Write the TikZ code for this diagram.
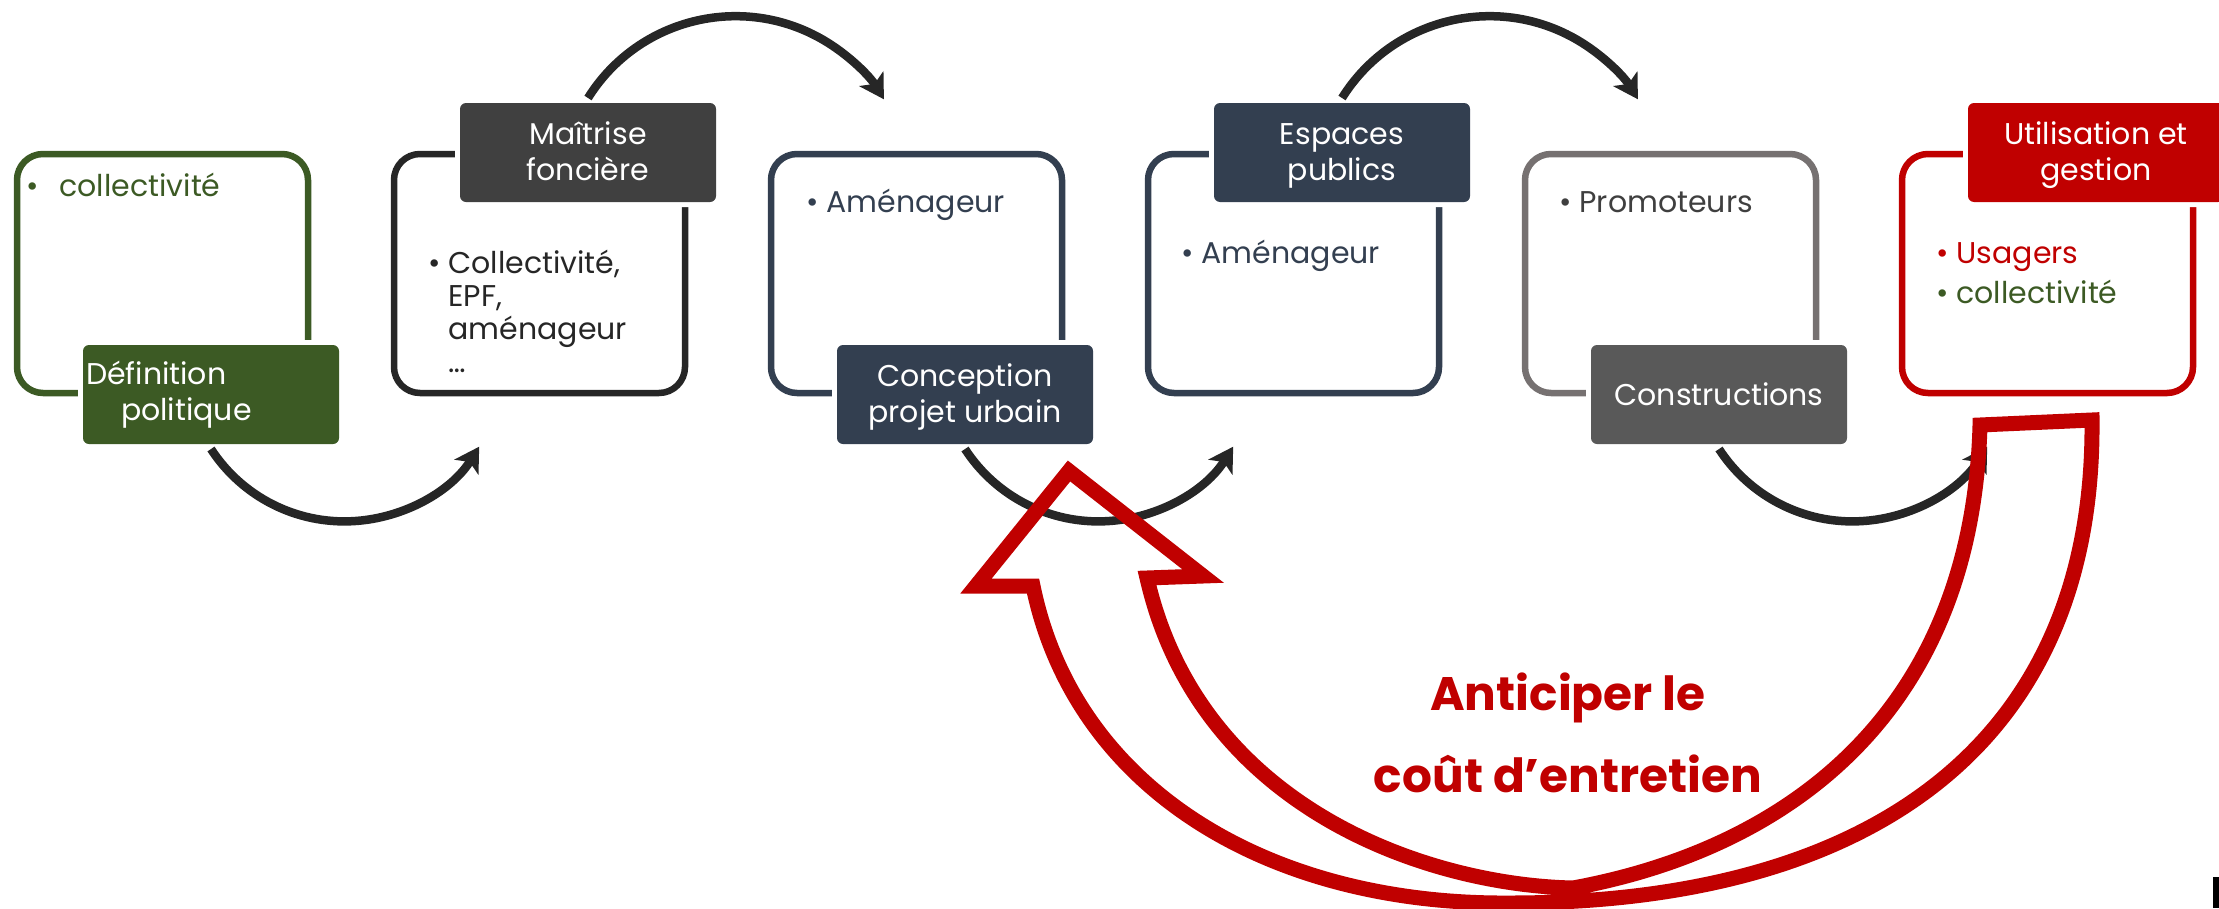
\documentclass[tikz,border=0pt]{standalone}
\usepackage{fontspec}
\setmainfont{Poppins}
\usetikzlibrary{arrows.meta}
\definecolor{cgreen}{HTML}{3C5A24}
\definecolor{cink}{HTML}{262626}
\definecolor{cslate}{HTML}{404040}
\definecolor{cnavy}{HTML}{333F50}
\definecolor{cstone}{HTML}{767171}
\definecolor{cconst}{HTML}{595959}
\definecolor{cgraytext}{HTML}{3F3F3F}
\definecolor{cred}{HTML}{C00000}
\newcommand{\bodyfont}{\fontsize{30}{33}\selectfont}
\newcommand{\labfont}{\fontsize{30}{36}\selectfont}
% struts that fix the vertical placement of title lines
\newcommand{\topstrut}{\rule{0pt}{28pt}}
\newcommand{\botstrut}{\rule[-8pt]{0pt}{8pt}}

\begin{document}
\begin{tikzpicture}[x=1pt,y=-1pt,
  stagebox/.style={line width=6.5pt, rounded corners=26pt, minimum width=291pt,
    minimum height=239pt, inner sep=0pt, outer sep=0pt, anchor=north west},
  stagelabel/.style={rounded corners=6pt, minimum width=256pt, minimum height=99pt,
    inner sep=0pt, outer sep=0pt, anchor=north west, text=white, align=center,
    font=\labfont, preaction={draw=white, line width=10pt}},
  entry/.style={anchor=base west, inner sep=0pt, font=\bodyfont},
  stepflow/.style={draw=cink, line width=8.5pt,
    -{Stealth[length=24pt,width=28pt,inset=6pt]}},
  costarrow/.style={draw=cred, line width=15pt, line join=miter, miter limit=10},
  slogan/.style={anchor=base, inner sep=0pt, text=cred,
    font=\bfseries\fontsize{47}{56}\selectfont}
]
\useasboundingbox (0,0) rectangle (2219,908);

% stage frames
\node[stagebox, draw=cgreen] (f1) at (17,154) {};
\node[stagebox, draw=cink]   (f2) at (394,154) {};
\node[stagebox, draw=cnavy]  (f3) at (771,154) {};
\node[stagebox, draw=cnavy]  (f4) at (1148,154) {};
\node[stagebox, draw=cstone] (f5) at (1525,154) {};
\node[stagebox, draw=cred]   (f6) at (1902,154) {};

% stage titles
\node[stagelabel, fill=cgreen, align=left, text width=250pt] (l1) at (83,345)
  {Définition\\\hspace*{35pt}politique};
\node[stagelabel, fill=cslate] (l2) at (460,103) {\topstrut Maîtrise\\foncière\botstrut};
\node[stagelabel, fill=cnavy]  (l3) at (837,345) {\topstrut Conception\\projet urbain\botstrut};
\node[stagelabel, fill=cnavy]  (l4) at (1214,103) {\topstrut Espaces\\publics\botstrut};
\node[stagelabel, fill=cconst] (l5) at (1591,345) {\topstrut Constructions\rule[-7pt]{0pt}{7pt}};
\node[stagelabel, fill=cred]   (l6) at (1968,103) {\topstrut Utilisation et\\gestion\botstrut};

% actors
\node[entry, text=cgreen] (t1) at (26,196) {•\hspace{21pt}collectivité};
\node[entry, text=cink] (t2) at (428,273)
  {•\hspace{8pt}\parbox[t]{200pt}{\raggedright Collectivité,\\EPF,\\aménageur\\…}};
\node[entry, text=cnavy] (t3) at (806,212) {•\hspace{8pt}Aménageur};
\node[entry, text=cnavy] (t4) at (1181,263) {•\hspace{8pt}Aménageur};
\node[entry, text=cgraytext] (t5) at (1559,212) {•\hspace{8pt}Promoteurs};
\node[entry, text=cred] (t6a) at (1936,263) {•\hspace{8pt}Usagers};
\node[entry, text=cgreen] (t6b) at (1936,303) {•\hspace{8pt}collectivité};

% sequence arrows between stages
\draw[stepflow] ([yshift=-5pt]l1.south) arc[start angle=147, end angle=32, radius=159];
\draw[stepflow] ([yshift=5pt]l2.north) arc[start angle=212, end angle=328.5, radius=174];
\draw[stepflow] ([yshift=-5pt]l3.south) arc[start angle=147, end angle=32, radius=159];
\draw[stepflow] ([yshift=5pt]l4.north) arc[start angle=212, end angle=328.5, radius=174];
\draw[stepflow] ([yshift=-5pt]l5.south) arc[start angle=147, end angle=32, radius=159];

% feedback arrow from use back to design
\draw[costarrow] (1069,471) -- (976,586) -- (1033,586)
  .. controls (1075,790) and (1270,905) .. (1510,903)
  .. controls (1850,903) and (2095,760) .. (2092,420)
  -- (1980,425)
  .. controls (1972,720) and (1780,850) .. (1573,888)
  .. controls (1430,885) and (1200,810) .. (1147,578)
  -- (1203,576) -- cycle;

\node[slogan] (c1) at (1568,710) {Anticiper le};
\node[slogan] (c2) at (1568,792) {coût d’entretien};

\fill[black] (2213,877) rectangle (2219,908);
\end{tikzpicture}
\end{document}
